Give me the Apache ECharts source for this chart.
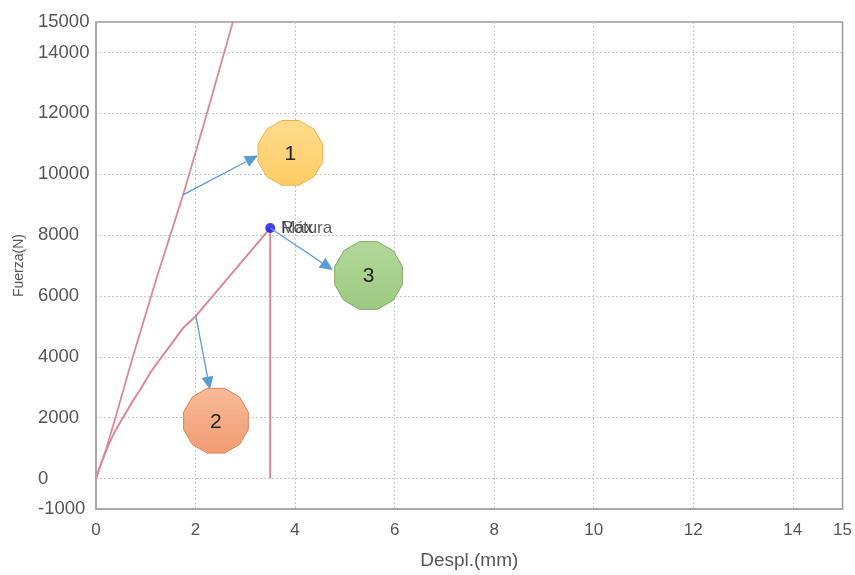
<!DOCTYPE html>
<html>
<head>
<meta charset="utf-8">
<script src="https://cdn.jsdelivr.net/npm/echarts@6/dist/echarts.min.js"></script>
<style>
  html, body { margin: 0; padding: 0; background: #fff; }
  #chart { width: 855px; height: 575px; }
</style>
</head>
<body>
<div id="chart"></div>
<script>
// Displacement (mm) / force (N) readings
const elasticDespl = [0, 0.2, 0.39, 0.74, 1.22, 1.75, 2.23, 2.75, 2.9];
const elasticFuerza = [0, 950, 2000, 4000, 6600, 9320, 12000, 15000, 15850];

const ensayoDespl = [0, 0.05, 0.1, 0.17, 0.25, 0.38, 0.54, 0.72, 0.9, 1.1, 1.32, 1.55, 1.75, 2.0, 3.5, 3.5];
const ensayoFuerza = [0, 250, 480, 780, 1100, 1550, 2000, 2500, 2950, 3500, 4000, 4500, 4950, 5330, 8230, 0];

const roturaPunto = [3.5, 8230];

// Axis ticks
const xTickLabels = [0, 2, 4, 6, 8, 10, 12, 14, 15];
const xGridValues = [2, 4, 6, 8, 10, 12, 14];
const yTickLabels = [-1000, 0, 2000, 4000, 6000, 8000, 10000, 12000, 14000, 15000];
const yGridValues = [0, 2000, 4000, 6000, 8000, 10000, 12000, 14000];

// Numbered callouts: label, centre, arrow start, arrow tip (data units)
const calloutLabels = ['1', '2', '3'];
const calloutCentres = [[3.906, 10700], [2.41, 1900], [5.476, 6672]];
const arrowStarts = [[1.747, 9318], [2.008, 5325], [3.5, 8230]];
const arrowTips = [[3.253, 10617], [2.289, 2922], [4.759, 6851]];

const calloutStyles = [
  { top: '#ffdc8c', bottom: '#ffcb66', stroke: '#eeb24a' },
  { top: '#f7bb97', bottom: '#f29c74', stroke: '#e0814f' },
  { top: '#b3d89a', bottom: '#9cc981', stroke: '#7ea963' }
];

const toPairs = (xs, ys) => xs.map((x, i) => [x, ys[i]]);
const plain = v => String(v);

const lineColor = '#d98a94';
const chart = echarts.init(document.getElementById('chart'), null, { renderer: 'canvas' });

chart.setOption({
  animation: false,
  backgroundColor: '#ffffff',
  grid: {
    left: 96, right: 12, top: 22, bottom: 60,
    show: true, borderColor: '#9a9a9a', borderWidth: 1.5, backgroundColor: 'transparent'
  },
  xAxis: {
    type: 'value', min: 0, max: 15,
    name: 'Despl.(mm)', nameLocation: 'middle', nameGap: 42,
    nameTextStyle: { fontFamily: 'Liberation Sans, Arial', fontSize: 19, color: '#555' },
    axisLine: { show: true, onZero: false, lineStyle: { color: '#a8a8a8', width: 2 } },
    axisTick: { show: false, customValues: xGridValues },
    axisLabel: {
      customValues: xTickLabels, margin: 13, formatter: plain,
      fontFamily: 'Liberation Sans, Arial', fontSize: 17, color: '#555'
    },
    splitLine: { show: true, lineStyle: { color: '#c9c9c9', type: [2, 2], width: 1 } }
  },
  yAxis: {
    type: 'value', min: -1000, max: 15000,
    name: 'Fuerza(N)', nameLocation: 'middle', nameGap: 70,
    nameTextStyle: { fontFamily: 'Liberation Sans, Arial', fontSize: 14, color: '#555' },
    axisLine: { show: true, onZero: false, lineStyle: { color: '#a8a8a8', width: 2 } },
    axisTick: { show: false, customValues: yGridValues },
    axisLabel: {
      customValues: yTickLabels, margin: 58, align: 'left', formatter: plain,
      fontFamily: 'Liberation Sans, Arial', fontSize: 18.5, color: '#555'
    },
    splitLine: { show: true, lineStyle: { color: '#c9c9c9', type: [2, 2], width: 1 } }
  },
  series: [
    {
      type: 'line', data: toPairs(elasticDespl, elasticFuerza), symbol: 'none',
      lineStyle: { color: lineColor, width: 1.8 }, clip: true, silent: true
    },
    {
      type: 'line', data: toPairs(ensayoDespl, ensayoFuerza), symbol: 'none',
      lineStyle: { color: lineColor, width: 2 }, clip: true, silent: true
    },
    {
      type: 'scatter', data: [roturaPunto], symbolSize: 10, z: 5,
      itemStyle: { color: '#1010ee' },
      label: {
        show: true, position: 'right', distance: 6, formatter: 'Rotura',
        fontFamily: 'Liberation Sans, Arial', fontSize: 17, color: '#333'
      }
    },
    {
      type: 'scatter', data: [roturaPunto], symbolSize: 10, z: 5,
      itemStyle: { color: 'transparent' },
      label: {
        show: true, position: 'right', distance: 6, formatter: 'Máx',
        fontFamily: 'Liberation Sans, Arial', fontSize: 17, color: '#333'
      }
    }
  ]
});

// Callout arrows and numbered twelve-sided badges
function buildCallouts() {
  const els = [];
  const px = p => chart.convertToPixel({ gridIndex: 0 }, p);
  calloutLabels.forEach((lab, i) => {
    const a = px(arrowStarts[i]);
    const b = px(arrowTips[i]);
    const dx = b[0] - a[0], dy = b[1] - a[1];
    const len = Math.hypot(dx, dy);
    const ux = dx / len, uy = dy / len;
    const headLen = 13, headHalf = 6;
    const base = [b[0] - ux * headLen, b[1] - uy * headLen];
    els.push({
      type: 'line', z: 10,
      shape: { x1: a[0], y1: a[1], x2: base[0], y2: base[1] },
      style: { stroke: '#5b9bd5', lineWidth: 1.3 }
    });
    els.push({
      type: 'polygon', z: 10,
      shape: { points: [b, [base[0] - uy * headHalf, base[1] + ux * headHalf], [base[0] + uy * headHalf, base[1] - ux * headHalf]] },
      style: { fill: '#5b9bd5' }
    });
    const c = px(calloutCentres[i]);
    const R = i === 2 ? 35 : 33.5;
    const pts = [];
    for (let k = 0; k < 12; k++) {
      const ang = (15 + 30 * k) * Math.PI / 180;
      pts.push([c[0] + R * Math.cos(ang), c[1] + R * Math.sin(ang)]);
    }
    const st = calloutStyles[i];
    els.push({
      type: 'polygon', z: 11,
      shape: { points: pts },
      style: {
        fill: new echarts.graphic.LinearGradient(0, 0, 0, 1, [
          { offset: 0, color: st.top }, { offset: 1, color: st.bottom }
        ]),
        stroke: st.stroke, lineWidth: 1
      }
    });
    els.push({
      type: 'text', z: 12,
      x: c[0], y: c[1] + 1,
      style: {
        text: lab, align: 'center', verticalAlign: 'middle',
        fontFamily: 'Liberation Sans, Arial', fontSize: 21, fill: '#222'
      }
    });
  });
  chart.setOption({ graphic: els });
}
buildCallouts();
</script>
</body>
</html>
